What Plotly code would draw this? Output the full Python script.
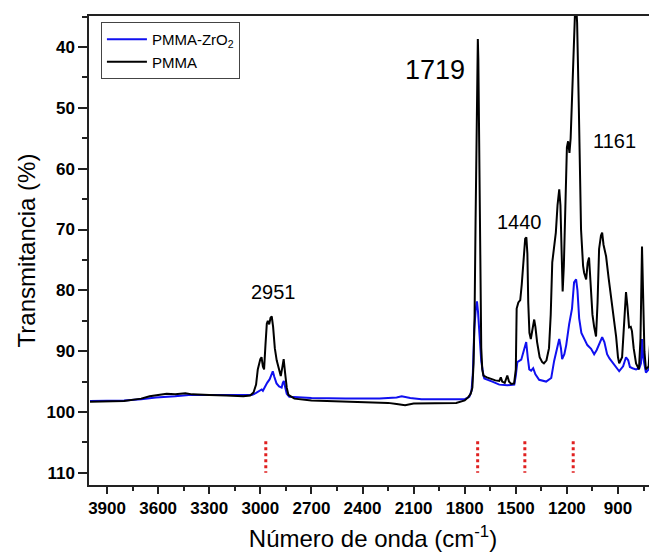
import plotly.graph_objects as go

# ---------------- data ----------------
pmma_wn = [4000, 3900, 3800, 3700, 3650, 3600, 3550, 3500, 3440, 3400, 3350, 3300, 3200, 3100,
           3060, 3040, 3025, 3015, 3000, 2993, 2985, 2978, 2970, 2962, 2956, 2948, 2940, 2933,
           2925, 2915, 2904, 2892, 2880, 2870, 2863, 2855, 2845, 2835, 2800, 2700, 2600, 2500,
           2400, 2300, 2250, 2200, 2150, 2100, 2000, 1900, 1850, 1800, 1780, 1765, 1755, 1748,
           1742, 1736, 1730, 1726, 1723, 1720, 1716, 1712, 1708, 1703, 1697, 1690, 1670, 1650,
           1620, 1597, 1588, 1580, 1565, 1550, 1540, 1527, 1510, 1500, 1495, 1485, 1474, 1465,
           1455, 1445, 1438, 1432, 1427, 1420, 1412, 1400, 1392, 1385, 1375, 1360, 1345, 1335,
           1320, 1305, 1295, 1286, 1275, 1265, 1255, 1245, 1238, 1232, 1225, 1218, 1210, 1200,
           1193, 1185, 1178, 1170, 1160, 1152, 1146, 1140, 1130, 1117, 1105, 1099, 1087, 1078,
           1070, 1062, 1050, 1040, 1029, 1020, 1011, 1000, 993, 985, 970, 955, 941, 930, 923,
           911, 900, 893, 876, 865, 853, 845, 835, 825, 818, 808, 794, 777, 768, 759, 752, 745,
           736, 720, 710, 706, 700, 690, 677, 665]
pmma_t = [98.3, 98.3, 98.2, 97.8, 97.4, 97.2, 97.0, 97.1, 96.9, 97.1, 97.2, 97.2, 97.3, 97.4,
          97.3, 96.8, 95.5, 93.0, 91.3, 91.0, 92.5, 93.0, 89.0, 85.5, 85.0, 85.6, 84.5, 84.3,
          86.0, 89.5, 91.5, 93.0, 94.1, 92.5, 91.3, 93.5, 96.0, 97.2, 97.8, 98.1, 98.2, 98.3,
          98.4, 98.5, 98.5, 98.7, 98.9, 98.6, 98.6, 98.6, 98.5, 98.1, 97.6, 97.0, 96.0, 92.0,
          84.0, 68.0, 50.0, 41.0, 38.7, 42.0, 55.0, 70.0, 82.0, 89.5, 93.0, 94.0, 94.3, 94.5,
          94.8, 94.9, 94.3, 95.0, 95.2, 94.0, 95.0, 95.4, 95.3, 93.0, 83.0, 82.0, 81.6, 79.0,
          75.0, 71.5, 71.3, 74.0, 82.0, 87.0, 88.0, 86.0, 84.8, 86.0, 88.5, 91.0, 91.8, 92.0,
          91.5, 89.5, 84.0, 75.4, 72.5, 70.5, 66.0, 63.4, 66.0, 74.0, 80.2, 76.0, 66.0, 56.5,
          55.5, 57.4, 55.0, 48.0, 40.0, 34.0, 33.0, 36.0, 50.0, 70.0, 76.0, 77.1, 78.2, 75.5,
          74.6, 78.0, 84.0, 86.0, 87.6, 82.0, 73.2, 71.0, 70.5, 72.5, 74.4, 78.0, 80.8, 83.5, 84.8,
          87.6, 91.0, 92.0, 91.0, 86.0, 80.3, 82.5, 86.1, 86.0, 86.7, 89.5, 92.0, 93.0, 88.0, 72.8, 80.0, 90.0,
          93.0, 92.5, 88.0, 86.4, 93.0, 93.8, 94.3, 94.5]

zro2_wn = [4000, 3900, 3800, 3700, 3613, 3500, 3420, 3300, 3200, 3100, 3050, 3027, 3010, 2992,
           2985, 2974, 2960, 2945, 2935, 2927, 2918, 2905, 2890, 2875, 2868, 2862, 2855, 2845,
           2830, 2700, 2500, 2300, 2200, 2170, 2120, 2054, 1900, 1800, 1773, 1760, 1752, 1744,
           1735, 1728, 1722, 1715, 1703, 1690, 1685, 1638, 1597, 1550, 1509, 1500, 1491, 1468,
           1455, 1439, 1430, 1421, 1410, 1398, 1385, 1363, 1322, 1292, 1275, 1260, 1245, 1235,
           1228, 1215, 1204, 1187, 1170, 1158, 1146, 1138, 1128, 1115, 1099, 1080, 1058, 1040,
           1025, 1011, 993, 980, 964, 950, 935, 915, 893, 870, 853, 840, 830, 815, 794, 775, 765,
           759, 752, 736, 720, 706, 690, 677, 665]
zro2_t = [98.2, 98.2, 98.1, 97.9, 97.6, 97.4, 97.2, 97.2, 97.2, 97.3, 97.2, 96.9, 96.6, 96.3,
          96.5, 95.9, 95.2, 94.6, 93.8, 93.3, 94.2, 95.3, 95.8, 96.0, 95.2, 94.9, 95.8, 97.0,
          97.5, 97.7, 97.8, 97.8, 97.6, 97.4, 97.7, 97.9, 97.9, 97.9, 97.5, 96.5, 93.5, 86.4,
          83.0, 81.8, 83.5, 87.0, 91.6, 94.0, 94.5, 95.0, 95.5, 95.6, 95.5, 94.0, 91.8, 91.4,
          90.0, 88.5, 91.0, 93.0, 93.2, 92.8, 93.8, 94.7, 95.0, 94.4, 91.6, 90.0, 88.0, 89.5,
          91.3, 90.5, 89.0, 85.6, 83.0, 78.7, 78.2, 80.0, 84.6, 87.0, 88.0, 89.0, 89.6, 90.5,
          89.8, 89.0, 87.7, 88.5, 90.5, 91.2, 91.8, 92.5, 93.3, 92.5, 91.0, 91.5, 92.6, 92.8, 93.0, 92.8, 92.0,
          88.0, 91.0, 93.5, 93.0, 91.7, 92.3, 92.6, 92.5]

band_labels = ["2951", "1719", "1440", "1161"]
band_label_x = [2925, 1974, 1481, 923]
band_label_y = [80.3, 43.8, 68.7, 55.4]
marker_wn = [2968, 1724, 1447, 1163]
marker_top = 104.8
marker_bottom = 110.0

x_ticks = [3900, 3600, 3300, 3000, 2700, 2400, 2100, 1800, 1500, 1200, 900]
y_ticks = [40, 50, 60, 70, 80, 90, 100, 110]

FONT = "Liberation Sans, Arial, sans-serif"

fig = go.Figure()
fig.add_trace(go.Scatter(x=zro2_wn, y=zro2_t, mode="lines", name="PMMA-ZrO<sub>2</sub>",
                         line=dict(color="#1010f0", width=2)))
fig.add_trace(go.Scatter(x=pmma_wn, y=pmma_t, mode="lines", name="PMMA",
                         line=dict(color="black", width=2)))

for wn in marker_wn:
    fig.add_trace(go.Scatter(x=[wn, wn], y=[marker_top, marker_bottom], mode="lines",
                             showlegend=False, hoverinfo="skip",
                             line=dict(color="#e02020", width=3, dash="dot")))

for txt, xx, yy in zip(band_labels, band_label_x, band_label_y):
    fig.add_annotation(x=xx, y=yy, text=txt, showarrow=False,
                       font=dict(family=FONT, size=27 if txt == "1719" else 20, color="black"))

# The page adds an 8 px body margin, so the figure is 8 px smaller and margins shifted.
fig.update_layout(
    width=649, height=547,
    margin=dict(l=81, r=0, t=8, b=70),
    paper_bgcolor="white", plot_bgcolor="white",
    font=dict(family=FONT, color="black"),
    showlegend=True,
    legend=dict(x=0.021, y=0.987, xanchor="left", yanchor="top",
                bordercolor="#444", borderwidth=1, bgcolor="white",
                font=dict(family=FONT, size=15), tracegroupgap=0,
                itemwidth=40),
)
fig.update_xaxes(
    range=[4006, 671], tickvals=x_ticks, ticks="outside", ticklen=7, tickwidth=1.5,
    tickcolor="#222", showline=True, linecolor="#222", linewidth=1.5, mirror=True,
    showgrid=False, zeroline=False,
    minor=dict(dtick=150, ticks="outside", ticklen=4, tickwidth=1.5, tickcolor="#222"),
    tickfont=dict(family=FONT, size=17, weight="bold"),
    title=dict(text="Número de onda (cm<sup>-1</sup>)", font=dict(family=FONT, size=24), standoff=13),
)
fig.update_yaxes(
    range=[112, 34.9], tickvals=y_ticks, ticks="outside", ticklen=9, tickwidth=1.5,
    tickcolor="#222", showline=True, linecolor="#222", linewidth=1.5,
    showgrid=False, zeroline=False,
    minor=dict(dtick=5, ticks="outside", ticklen=5, tickwidth=1.5, tickcolor="#222"),
    tickfont=dict(family=FONT, size=17, weight="bold"),
    title=dict(text="Transmitancia (%)", font=dict(family=FONT, size=24), standoff=4),
)

fig.write_html("out.html")
